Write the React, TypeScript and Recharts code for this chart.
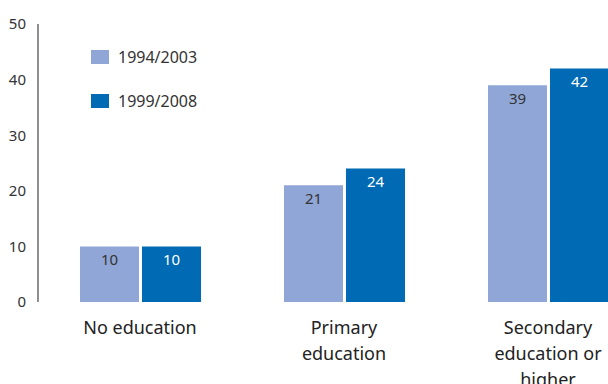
import React from "react";
import { BarChart, Bar, XAxis, YAxis, LabelList, Legend } from "recharts";

const categories = ["No education", "Primary\neducation", "Secondary\neducation or\nhigher"];
const series1994 = [10, 21, 39];
const series1999 = [10, 24, 42];
const seriesNames = ["1994/2003", "1999/2008"];
const yTicks = [0, 10, 20, 30, 40, 50];

const LIGHT = "#8fa6d6";
const DARK = "#006ab4";
const FONT = "'Noto Sans', sans-serif";

const data = categories.map((c, i) => ({ name: c, a: series1994[i], b: series1999[i] }));

const XTick = (props: any) => {
  const { x, y, payload } = props;
  const lines = String(payload.value).split("\n");
  return (
    <g>
      {lines.map((l: string, i: number) => (
        <text key={i} x={x} y={y + 24 + i * 26} textAnchor="middle" fontSize={18} fill="#222" fontFamily={FONT}>
          {l}
        </text>
      ))}
    </g>
  );
};

const LegendContent = () => (
  <div style={{ fontFamily: FONT, fontSize: 16, color: "#333" }}>
    {seriesNames.map((n, i) => (
      <div key={n} style={{ display: "flex", alignItems: "center", height: 22, marginBottom: 22 }}>
        <span style={{ display: "inline-block", width: 18, height: 14, background: i === 0 ? LIGHT : DARK, marginRight: 9 }} />
        <span>{n}</span>
      </div>
    ))}
  </div>
);

export default function App() {
  return (
    <div style={{ position: "absolute", left: 0, top: 0, width: 608, height: 384, overflow: "hidden", background: "#fff" }}>
      <BarChart width={650} height={384} data={data} margin={{ top: 24, right: 0, bottom: 2, left: 1 }} barSize={59} barGap={3}>
        <YAxis
          width={37}
          domain={[0, 50]}
          ticks={yTicks}
          interval={0}
          axisLine={{ stroke: "#444", strokeWidth: 1.2 }}
          tickLine={false}
          tick={{ fontSize: 15, fill: "#333", fontFamily: FONT }}
          tickMargin={6}
        />
        <XAxis dataKey="name" height={80} axisLine={false} tickLine={false} tick={<XTick />} interval={0} />
        <Legend
          verticalAlign="middle"
          align="center"
          layout="vertical"
          wrapperStyle={{ top: 46, left: 91, width: 150 }}
          content={<LegendContent />}
        />
        <Bar dataKey="a" fill={LIGHT} isAnimationActive={false}>
          <LabelList dataKey="a" position="insideTop" offset={8} fill="#333" fontSize={15} fontFamily={FONT} />
        </Bar>
        <Bar dataKey="b" fill={DARK} isAnimationActive={false}>
          <LabelList dataKey="b" position="insideTop" offset={8} fill="#fff" fontSize={15} fontFamily={FONT} />
        </Bar>
      </BarChart>
    </div>
  );
}
